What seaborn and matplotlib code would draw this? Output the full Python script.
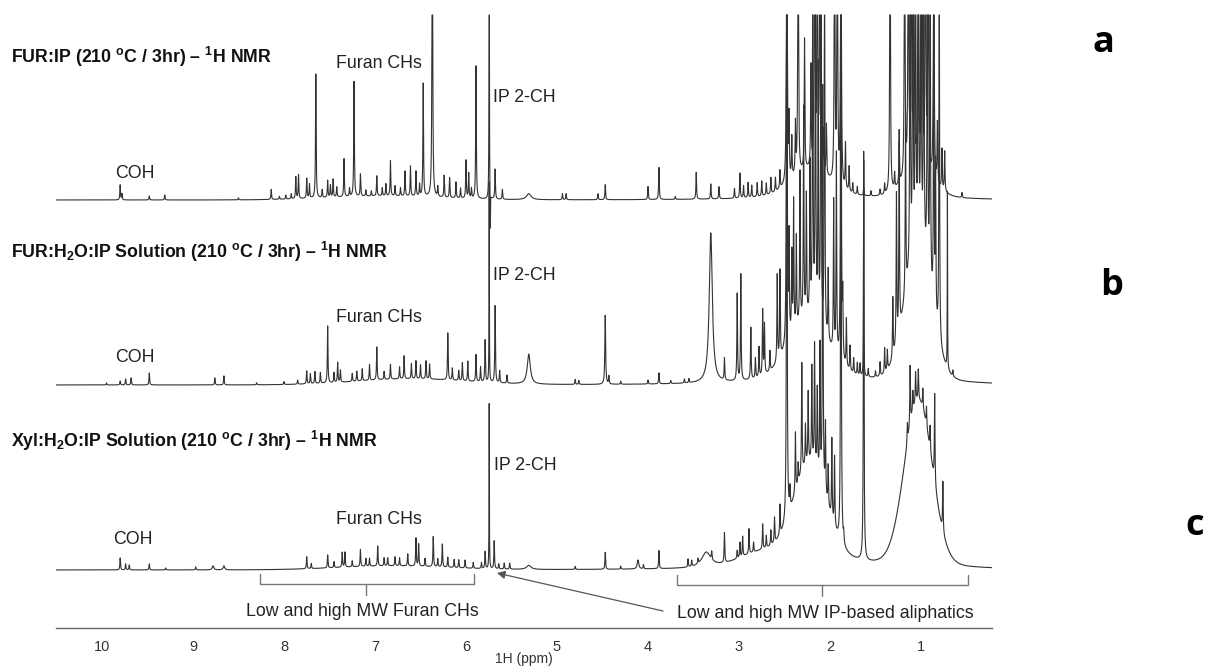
import numpy as np
import pandas as pd
import matplotlib
matplotlib.use("Agg")
import matplotlib.pyplot as plt
import seaborn as sns

# ---- spectrum peak lists ----
# sharp lines: (ppm, height in px above the trace baseline)
# lorentz: (ppm, height, half width ppm); gauss: (ppm, height, sigma ppm)
titles = [
    r"FUR:IP (210 $^{\mathbf{o}}$C / 3hr) – $^{\mathbf{1}}$H NMR",
    r"FUR:H$_{\mathbf{2}}$O:IP Solution (210 $^{\mathbf{o}}$C / 3hr) – $^{\mathbf{1}}$H NMR",
    r"Xyl:H$_{\mathbf{2}}$O:IP Solution (210 $^{\mathbf{o}}$C / 3hr) – $^{\mathbf{1}}$H NMR",
]
panel_letters = ["a", "b", "c"]
trace_offsets = [428, 243, 58]   # baseline of each trace (px above axis)

a_sharp = [(9.80, 15), (9.78, 6), (9.48, 4), (9.31, 5), (8.50, 2), (8.14, 10), (8.05, 3),
           (7.98, 4), (7.92, 5), (7.87, 22), (7.84, 24), (7.75, 20), (7.72, 14), (7.65, 124),
           (7.58, 8), (7.52, 17), (7.49, 12), (7.46, 18), (7.42, 10), (7.34, 38), (7.28, 8),
           (7.23, 115), (7.16, 22), (7.10, 6), (7.04, 5), (6.98, 20), (6.92, 8), (6.88, 12),
           (6.83, 35), (6.78, 10), (6.72, 8), (6.67, 25), (6.61, 30), (6.55, 25), (6.51, 12),
           (6.47, 113), (6.37, 400), (6.31, 10), (6.24, 22), (6.18, 20), (6.11, 16), (6.06, 10),
           (6.00, 38), (5.97, 25), (5.94, 10), (5.89, 133), (5.68, 30), (5.60, 10),
           (4.94, 6), (4.90, 6), (4.55, 6), (4.47, 15), (4.00, 13), (3.88, 32), (3.70, 3),
           (3.47, 27), (3.31, 15), (3.22, 12), (3.05, 10), (2.99, 25), (2.95, 12), (2.90, 15),
           (2.86, 12), (2.80, 14), (2.75, 15), (2.70, 12), (2.65, 16), (2.60, 14), (2.55, 18),
           (2.475, 500), (2.45, 60), (2.42, 40), (2.38, 50), (2.35, 400), (2.28, 130),
           (2.21, 100), (2.17, 400), (2.14, 400), (2.11, 400), (2.07, 40), (2.04, 50),
           (1.95, 400), (1.92, 400), (1.88, 500), (1.83, 45), (1.79, 25), (1.75, 10), (1.70, 8),
           (1.63, 8), (1.55, 5), (1.45, 6), (1.40, 10), (1.34, 400), (1.29, 15), (1.24, 40),
           (1.18, 400), (1.14, 400), (1.11, 400), (1.08, 400), (1.03, 400), (0.99, 400),
           (0.95, 400), (0.92, 400), (0.86, 400), (0.82, 60), (0.77, 40), (0.74, 40), (0.55, 5)]
a_lorentz = [(5.745, 400, 0.002), (5.733, -40, 0.002), (5.31, 6, 0.03),
             (2.20, 10, 0.35), (1.00, 5, 0.30)]
a_gauss = [(6.90, 4, 0.6), (2.22, 20, 0.2), (1.03, 25, 0.15)]

b_sharp = [(9.95, 2), (9.80, 4), (9.74, 6), (9.68, 7), (9.48, 12), (8.76, 7), (8.66, 9),
           (8.30, 2), (8.00, 3), (7.85, 4), (7.75, 13), (7.71, 10), (7.66, 12), (7.60, 11),
           (7.52, 57), (7.45, 10), (7.41, 20), (7.38, 12), (7.25, 8), (7.20, 10), (7.14, 12),
           (7.06, 16), (6.98, 33), (6.90, 8), (6.83, 15), (6.73, 12), (6.68, 23), (6.60, 15),
           (6.55, 18), (6.50, 14), (6.44, 18), (6.40, 15), (6.20, 47), (6.15, 12), (6.08, 10),
           (6.04, 18), (5.98, 20), (5.89, 27), (5.84, 15), (5.79, 42), (5.68, 77),
           (5.63, 12), (5.55, 8), (4.80, 5), (4.76, 4), (4.43, 8), (4.30, 3), (4.00, 4),
           (3.88, 11), (3.75, 3), (3.60, 4), (3.55, 4), (3.16, 22), (3.02, 87), (2.98, 106),
           (2.87, 52), (2.82, 20), (2.78, 30), (2.74, 65), (2.72, 50), (2.66, 20), (2.58, 87),
           (2.55, 87), (2.475, 600), (2.45, 100), (2.42, 80), (2.40, 130), (2.37, 90),
           (2.33, 150), (2.29, 210), (2.26, 120), (2.22, 150), (2.19, 400), (2.16, 400),
           (2.13, 250), (2.10, 400), (2.06, 400), (2.02, 70), (1.96, 150), (1.93, 200),
           (1.88, 600), (1.86, 60), (1.82, 48), (1.78, 25), (1.74, 15), (1.70, 12), (1.67, 12),
           (1.58, 8), (1.50, 6), (1.45, 14), (1.40, 25), (1.37, 20), (1.31, 60),
           (1.27, 150), (1.24, 200), (1.17, 180), (1.12, 400), (1.09, 400), (1.06, 400),
           (1.03, 400), (1.00, 400), (0.97, 400), (0.93, 400), (0.90, 400), (0.86, 300),
           (0.84, 150), (0.80, 400), (0.65, 6)]
b_lorentz = [(5.745, 200, 0.002), (5.31, 30, 0.02), (4.47, 69, 0.005), (3.31, 150, 0.02),
             (1.63, 225, 0.002), (0.71, 178, 0.002), (2.20, 20, 0.35), (1.03, 8, 0.35)]
b_gauss = [(6.60, 6, 0.6), (2.25, 45, 0.2), (1.03, 130, 0.14)]

c_sharp = [(9.80, 12), (9.74, 6), (9.70, 5), (9.48, 6), (9.30, 2), (8.97, 3), (7.75, 12),
           (7.70, 5), (7.52, 13), (7.45, 6), (7.36, 15), (7.33, 15), (7.25, 6), (7.16, 17),
           (7.10, 8), (7.06, 8), (6.97, 20), (6.90, 8), (6.86, 8), (6.78, 9), (6.73, 8),
           (6.64, 12), (6.55, 28), (6.52, 22), (6.45, 8), (6.36, 30), (6.31, 8), (6.26, 23),
           (6.20, 10), (6.13, 8), (6.08, 8), (6.01, 8), (5.92, 6), (5.83, 6), (5.79, 17),
           (5.69, 28), (5.64, 5), (5.58, 6), (5.52, 6), (4.80, 3), (4.47, 17), (4.30, 3),
           (4.05, 4), (3.88, 18), (3.56, 8), (3.52, 6), (3.45, 5), (3.30, 8), (3.16, 30),
           (3.02, 8), (2.99, 15), (2.96, 20), (2.89, 25), (2.84, 10), (2.74, 25), (2.70, 12),
           (2.65, 15), (2.61, 25), (2.55, 30), (2.475, 600), (2.44, 20), (2.38, 60),
           (2.35, 20), (2.31, 110), (2.27, 40), (2.24, 70), (2.20, 95), (2.17, 120),
           (2.14, 80), (2.11, 130), (2.08, 400), (2.05, 70), (2.02, 40), (1.98, 80),
           (1.95, 70), (1.88, 600), (1.85, 10), (1.63, 400), (1.15, 20), (1.12, 60),
           (1.09, 20), (1.06, 30), (1.03, 30), (0.98, 20), (0.94, 20), (0.90, 25),
           (0.85, 90), (0.76, 50)]
c_lorentz = [(5.745, 165, 0.002), (8.78, 4, 0.01), (8.66, 4, 0.01), (5.31, 4, 0.03),
             (4.11, 9, 0.01), (3.36, 15, 0.06), (2.20, 25, 0.35), (1.03, 8, 0.40)]
c_gauss = [(6.80, 4, 0.6), (2.75, 12, 0.25), (2.22, 80, 0.17), (1.03, 160, 0.15)]

furan_bracket = (8.26, 5.91, 7.10)       # start, end, centre (ppm)
aliph_bracket = (3.68, 0.48, 2.09)

SHARP_W = 0.004
CLIP = 613


def build_trace(ppm, sharp, lorentz, gauss):
    y = np.zeros_like(ppm)
    for c, h in sharp:
        y += h * SHARP_W**2 / ((ppm - c)**2 + SHARP_W**2)
    for c, h, w in lorentz:
        y += h * w**2 / ((ppm - c)**2 + w**2)
    for c, h, s in gauss:
        y += h * np.exp(-0.5 * ((ppm - c) / s)**2)
    return y


W, H = 1206, 666
sns.set_style("white")
plt.rcParams["font.family"] = ["Liberation Sans", "DejaVu Sans"]
plt.rcParams["mathtext.fontset"] = "custom"
plt.rcParams["mathtext.rm"] = "Liberation Sans"
plt.rcParams["mathtext.bf"] = "Liberation Sans:bold"
plt.rcParams["mathtext.it"] = "Liberation Sans:italic"

fig = plt.figure(figsize=(W / 100, H / 100), dpi=100)
ax = fig.add_axes([56 / W, 38 / H, 936 / W, 628 / H])


def fx(x):
    return x / W


def fy(y):
    return 1 - y / H


ppm = np.linspace(10.505, 0.22, 24000)
traces = [(a_sharp, a_lorentz, a_gauss), (b_sharp, b_lorentz, b_gauss),
          (c_sharp, c_lorentz, c_gauss)]
for (sharp, lor, gau), off in zip(traces, trace_offsets):
    y = np.minimum(build_trace(ppm, sharp, lor, gau) + off, CLIP)
    df = pd.DataFrame({"ppm": ppm, "int": y})
    sns.lineplot(data=df, x="ppm", y="int", ax=ax, color="#333333", lw=0.8,
                 estimator=None, sort=False)

ax.set_xlim(10.505, 0.22)
ax.set_ylim(0, 628)
sns.despine(ax=ax, left=True, top=True, right=True)
ax.spines["bottom"].set_color("#666666")
ax.spines["bottom"].set_linewidth(1.0)
ax.set_yticks([])
ax.set_ylabel("")
ax.set_xticks(np.arange(1, 11))
ax.set_xticks(np.arange(0.5, 10.6, 1.0), minor=True)
ax.tick_params(axis="x", which="major", direction="out", length=3.5, width=0.9,
               color="#666666", labelsize=10.5, labelcolor="#333333", pad=5)
ax.tick_params(axis="x", which="minor", direction="out", length=2, width=0.8,
               color="#666666")
ax.set_xlabel("1H (ppm)", fontsize=10, color="#333333", labelpad=-1)

# brackets under the bottom trace
for (x0, x1, xc), ybar in [(furan_bracket, 44), (aliph_bracket, 43)]:
    ax.plot([x0, x0, x1, x1], [ybar + 10, ybar, ybar, ybar + 10], color="#777777", lw=1)
    ax.plot([xc, xc], [ybar, ybar - 11], color="#777777", lw=1)

ax.annotate("", xy=(5.66, 55), xytext=(3.835, 17),
            arrowprops=dict(arrowstyle="-|>", color="#555555", lw=0.9,
                            mutation_scale=12, shrinkA=0, shrinkB=0))

fig.text(fx(362), fy(611), "Low and high MW Furan CHs", ha="center", va="center",
         fontsize=12.8, color="#222222")
fig.text(fx(825), fy(613), "Low and high MW IP-based aliphatics", ha="center",
         va="center", fontsize=12.8, color="#222222")

# titles and peak labels
title_y = [57, 252, 441]
for t, ty in zip(titles, title_y):
    fig.text(fx(11), fy(ty), t, ha="left", va="center", fontsize=12.8,
             fontweight="bold", color="#111111")

label_pos = [
    [("Furan CHs", 379, 63), ("IP 2-CH", 493, 97), ("COH", 135, 173)],
    [("Furan CHs", 379, 318), ("IP 2-CH", 493, 275), ("COH", 135, 357)],
    [("Furan CHs", 379, 520), ("IP 2-CH", 494, 465), ("COH", 133, 539)],
]
for group in label_pos:
    for txt, x, y in group:
        ha = "left" if txt.startswith("IP") else "center"
        fig.text(fx(x), fy(y), txt, ha=ha, va="center", fontsize=12.8, color="#222222")

letter_pos = [(1103, 43), (1112, 286), (1195, 526)]
for let, (x, y) in zip(panel_letters, letter_pos):
    fig.text(fx(x), fy(y), let, ha="center", va="center", fontsize=26,
             fontweight="bold", family=["Open Sans", "DejaVu Sans"], color="black")

fig.savefig("out.png", dpi=100)
